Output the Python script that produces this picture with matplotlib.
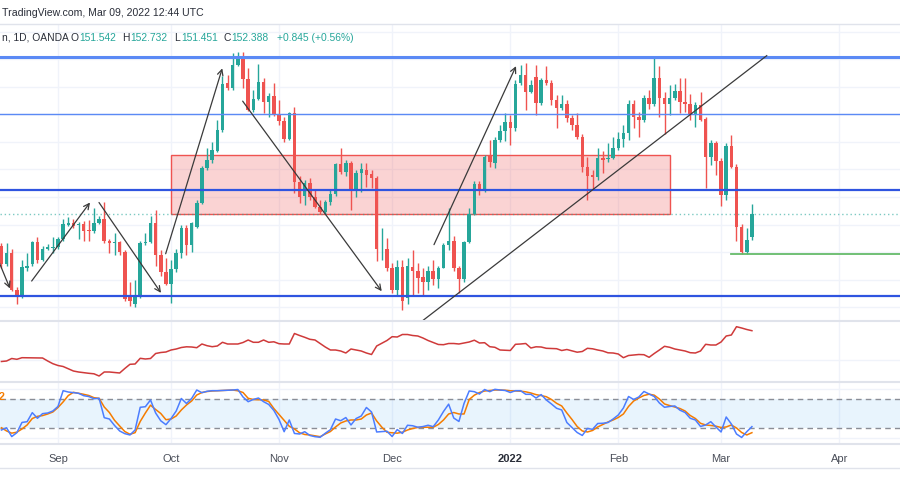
"""GBP/JPY daily chart snapshot with volatility line and stochastic pane."""

import matplotlib.pyplot as plt
import numpy as np
import pandas as pd
from matplotlib.lines import Line2D
from matplotlib.patches import Rectangle

plt.rcParams["font.family"] = ["Liberation Sans", "DejaVu Sans"]

TEAL = "#26a69a"
RED = "#ef5350"
GRID = "#f0f3fa"
SEP = "#e0e3eb"

dates = pd.bdate_range("2021-08-17", "2022-03-09")
calendar = pd.bdate_range("2021-08-17", "2022-04-29")

opens = [
    151.22, 150.55, 150.95, 149.64, 149.46, 150.44, 150.55, 151.35, 150.73, 151.13, 151.15,
    151.17, 151.46, 152.00, 152.05, 151.97, 152.01, 151.82, 151.76, 152.04, 152.19,
    151.39, 151.34, 151.35, 151.00, 149.39, 149.13, 149.42, 151.32, 151.36, 152.05,
    150.88, 150.27, 149.86, 150.37, 150.95, 151.86, 151.24, 151.90, 152.77, 154.04,
    154.33, 154.66, 155.42, 157.13, 156.95, 157.79, 158.09, 157.28, 156.15, 156.55,
    157.17, 156.44, 156.66, 156.00, 155.75, 155.10, 156.04, 153.53, 153.02, 153.50,
    152.99, 152.62, 152.44, 152.81, 153.10, 154.19, 153.90, 154.22, 153.24, 153.86,
    153.97, 153.82, 153.68, 151.10, 151.13, 150.41, 149.61, 150.45, 149.35, 150.45,
    150.33, 150.08, 149.93, 150.33, 150.01, 150.44, 151.24, 151.42, 150.44, 150.04,
    151.35, 152.37, 153.46, 153.21, 154.48, 154.22, 155.06, 155.39, 155.71, 155.50,
    157.13, 157.42, 156.81, 157.35, 156.40, 157.24, 157.13, 156.51, 156.22, 156.37,
    155.86, 155.60, 155.18, 154.09, 153.79, 153.71, 154.41, 154.37, 154.42, 154.77,
    155.10, 155.31, 156.37, 155.91, 155.79, 156.58, 156.36, 157.32, 156.60, 156.36,
    156.58, 156.84, 156.45, 156.37, 156.00, 156.33, 155.82, 154.45, 154.95, 154.30,
    153.06, 154.84, 154.09, 151.91, 151.00, 151.542,
]
highs = [
    151.32, 151.32, 151.13, 149.72, 150.70, 150.95, 151.42, 151.53, 151.21, 151.28, 151.53,
    151.53, 152.19, 152.27, 152.19, 152.09, 152.12, 152.15, 152.59, 152.30, 152.81,
    151.46, 151.68, 151.42, 151.06, 149.90, 149.97, 151.42, 151.71, 152.30, 152.52,
    151.06, 150.77, 150.70, 151.13, 151.97, 151.97, 152.08, 152.88, 154.11, 154.77,
    154.99, 155.79, 157.39, 157.42, 158.22, 158.27, 158.26, 157.68, 156.88, 157.82,
    157.31, 156.77, 157.13, 156.51, 155.90, 156.08, 156.27, 153.75, 153.61, 153.68,
    153.24, 152.88, 152.88, 153.28, 154.22, 154.77, 154.33, 154.30, 153.97, 154.22,
    154.22, 153.97, 153.75, 151.86, 151.50, 150.62, 150.73, 150.70, 150.77, 151.06,
    150.62, 150.41, 150.48, 150.70, 150.51, 151.32, 152.59, 151.57, 150.51, 151.42,
    152.59, 153.57, 153.57, 154.51, 155.06, 155.17, 155.60, 156.04, 155.97, 157.24,
    157.79, 157.86, 157.24, 157.79, 157.31, 157.75, 157.24, 156.70, 156.70, 156.51,
    155.97, 156.04, 155.28, 154.44, 153.97, 154.77, 154.66, 154.95, 155.17, 155.35,
    155.60, 156.51, 156.51, 156.08, 156.72, 156.88, 158.11, 157.76, 156.81, 157.06,
    157.12, 157.33, 157.31, 156.73, 156.44, 156.81, 155.90, 155.06, 155.02, 154.41,
    154.95, 155.24, 154.19, 152.01, 151.86, 152.732,
]
lows = [
    150.41, 150.48, 149.57, 149.13, 149.35, 150.33, 150.48, 150.62, 150.66, 151.06, 150.95,
    151.13, 151.42, 151.93, 151.86, 151.46, 151.42, 151.42, 151.71, 152.01, 151.32,
    150.95, 150.88, 150.88, 149.24, 149.03, 149.00, 149.32, 151.24, 151.32, 150.51,
    150.15, 149.79, 149.17, 150.26, 150.77, 150.88, 150.99, 151.86, 152.73, 153.97,
    154.22, 154.62, 155.35, 156.88, 156.88, 157.75, 156.95, 156.11, 156.08, 156.51,
    156.04, 155.90, 155.93, 155.60, 154.99, 155.06, 153.13, 152.77, 152.70, 152.88,
    152.59, 152.37, 152.37, 152.70, 153.02, 153.82, 153.75, 152.52, 152.99, 153.17,
    153.35, 153.32, 150.66, 150.70, 150.33, 149.50, 149.39, 148.91, 149.10, 149.46,
    149.53, 149.39, 149.61, 149.79, 149.68, 150.41, 151.06, 150.33, 149.50, 149.90,
    151.32, 152.33, 153.06, 153.17, 154.08, 154.04, 154.99, 155.02, 154.88, 155.39,
    157.06, 156.15, 156.77, 155.97, 156.33, 157.06, 156.33, 155.50, 156.15, 155.71,
    155.42, 155.10, 153.90, 152.88, 153.24, 153.61, 153.86, 154.26, 154.37, 154.70,
    154.82, 155.06, 155.50, 155.18, 155.71, 156.21, 156.30, 155.91, 155.30, 155.97,
    156.51, 156.05, 156.09, 155.79, 155.53, 155.75, 153.33, 154.15, 153.79, 152.66,
    152.88, 154.04, 151.39, 150.94, 150.94, 151.451,
]
closes = [
    150.55, 150.95, 149.64, 149.46, 150.45, 150.51, 151.35, 150.73, 151.13, 151.18, 151.18,
    151.46, 152.01, 152.05, 151.93, 152.01, 151.76, 151.77, 152.04, 152.19, 151.39,
    151.33, 151.36, 151.00, 149.30, 149.24, 149.46, 151.32, 151.36, 152.05, 150.88,
    150.27, 149.85, 150.37, 150.95, 151.86, 151.24, 152.04, 152.77, 154.04, 154.33,
    154.70, 155.42, 157.10, 156.95, 157.79, 158.08, 157.27, 156.15, 156.55, 157.17,
    156.44, 156.66, 156.00, 155.75, 155.10, 156.04, 153.53, 152.99, 153.50, 152.99,
    152.62, 152.44, 152.81, 153.10, 154.19, 153.90, 154.22, 153.24, 153.86, 154.00,
    153.79, 153.68, 151.10, 151.13, 150.41, 149.61, 150.45, 149.24, 150.48, 150.33,
    150.07, 149.93, 150.33, 150.01, 150.44, 151.24, 151.42, 150.41, 150.04, 151.35,
    152.37, 153.46, 153.21, 154.44, 154.26, 155.06, 155.39, 155.71, 155.50, 157.12,
    157.42, 156.81, 157.06, 156.40, 157.24, 157.13, 156.51, 156.22, 156.37, 155.86,
    155.60, 155.18, 154.09, 153.75, 153.71, 154.41, 154.33, 154.42, 154.77, 155.12,
    155.31, 156.37, 155.91, 155.79, 156.58, 156.36, 157.32, 156.60, 156.36, 156.58,
    156.84, 156.45, 156.37, 156.00, 156.33, 155.80, 154.45, 154.95, 154.29, 153.06,
    154.84, 154.09, 151.91, 151.00, 151.45, 152.388,
]

# lower pane line (red)
volatility = [
    38.5, 39, 41.5, 40.7, 42.3, 42.2, 42, 42, 42, 39, 36.3,
    34.5, 33.5, 31.3, 29, 28, 27.3, 26.7, 26.2, 24, 28,
    28, 27.5, 27, 31.5, 35.7, 36, 41.7, 41, 41.5, 46.5,
    47.5, 48, 50, 51, 52.5, 53.2, 53, 52.3, 56, 54.3,
    53.3, 54, 57.7, 56, 56, 56, 57.5, 60, 57.7, 57.7,
    60, 57.7, 58.2, 56.3, 56, 56, 66.5, 64.5, 62.7, 60.7,
    60, 56.5, 53, 50, 50, 49, 47, 51, 50, 49,
    47, 45.5, 54, 56.7, 59.5, 63.3, 63, 65.5, 65.5, 64.5,
    64, 62, 59.5, 57.5, 55.5, 55.3, 56.5, 56.5, 56, 57,
    58, 59.8, 57, 57.3, 53.3, 52.7, 50, 49.7, 49.5, 55.7,
    56, 56.5, 52, 53.2, 53, 51.7, 51.5, 51.3, 49.5, 50.5,
    49.2, 47.8, 48.5, 51.7, 51.2, 50, 49, 47.2, 47, 46,
    42.3, 44.5, 45, 45.5, 45.3, 42.7, 46.5, 50, 53.7, 52.7,
    51, 50, 49, 47.3, 47, 49, 55.7, 55, 55, 58,
    64, 65, 73.3, 72, 70.5, 69.3,
]
stoch_k = [
    16.5, 21, 3, 11, 32, 33.5, 52, 40.5, 50, 51.3, 55.4,
    64.7, 97, 94.3, 93, 91.7, 86.8, 85, 80.6, 81.4, 41.7,
    39, 25.8, 14.5, 9, 6.3, 16.5, 63, 64.2, 78, 51.3,
    35.3, 27.4, 40, 55.4, 81, 70.8, 81, 98.4, 92.9, 95.8,
    97, 97, 97.4, 98, 98.4, 99.4, 84.1, 74.5, 79, 82,
    74.5, 68.8, 56.5, 38, 13, 37, 9.4, 8.3, 13, 5.3,
    2.8, 1.6, 9.8, 17.1, 39, 35.5, 42, 26.8, 40, 45.2,
    62.6, 53.4, 12.4, 13.2, 14, 3.2, 17.4, 9.4, 26.2, 25.2,
    22.1, 23.5, 26.2, 23.3, 37, 54.4, 69.4, 41, 34, 71,
    96.4, 95, 90.2, 99.4, 95, 99.8, 98.4, 97.4, 93.3, 97,
    97, 89.6, 89.6, 82, 89, 78, 69.8, 61, 57.5, 31.8,
    21.6, 11.4, 5.3, 19.6, 17.9, 29.8, 30.3, 31.8, 39, 47.2,
    61.6, 85.1, 79, 84.1, 95.4, 90.2, 85.1, 71.8, 63, 64.7,
    65.7, 57.1, 52.3, 40.5, 37, 23.7, 26.8, 33.5, 22.7, 12.4,
    43.1, 28.8, 8.3, 1.2, 13, 23.3,
]
stoch_d = [
    21, 14.5, 10, 12, 18.6, 26.8, 40, 44.5, 46, 49.3, 53.4,
    62.6, 74, 87, 93.7, 91.7, 89.6, 87.2, 82.7, 81.4, 63.6,
    52.3, 36.4, 24.7, 13.4, 7.7, 11, 34, 51.3, 67.3, 58.5,
    50.3, 37.6, 39, 45.2, 57.5, 67.7, 75.9, 88.2, 93.3, 95.3,
    96.4, 97, 97.4, 97.8, 98.4, 96.8, 93.3, 81.4, 79, 78.4,
    78, 75, 60.5, 48.3, 36, 24.1, 18.6, 10.8, 7.3, 6.3,
    4.6, 2.8, 8.3, 13.4, 22.7, 30.8, 35, 37, 37, 39,
    47.2, 51.3, 35, 22.3, 11.9, 10.8, 10, 11.9, 16.5, 19.6,
    21.7, 22.1, 22.1, 22.1, 27.8, 37, 49.3, 52.3, 49.3, 49.3,
    79, 87.8, 93.3, 96.4, 97.4, 98.4, 98.4, 98, 96.9, 96.4,
    96, 94.7, 92.3, 89, 87, 84.7, 79, 71.2, 65.7, 51.3,
    38, 23.7, 14.5, 12.4, 15.5, 22.7, 27.8, 32.9, 37, 42.1,
    49.3, 64.7, 75.9, 82, 87.2, 89.8, 87.8, 80, 69.8, 66.5,
    63.6, 60.5, 55.4, 46.2, 40, 30.2, 26.8, 25.8, 24.3, 21.6,
    22.7, 26.8, 20.6, 11.4, 6.3, 11,
]

# drawings on the price pane (bar index, price)
levels = [158.09, 156.03, 153.27, 149.40]
level_colors = ["#5b8af5", "#5b8af5", "#2f54e0", "#2f54e0"]
level_widths = [2.2, 1.0, 1.6, 1.6]
support_start, support_price = 141.9, 150.94
zone_x = (32.98, 130.07)
zone_y = (152.37, 154.54)
arrow_starts = [(-0.67, 150.73), (5.88, 149.95), (18.98, 152.80), (31.95, 150.94), (46.93, 156.48), (84.15, 151.27)]
arrow_ends = [(1.66, 149.68), (17.23, 152.80), (31.04, 149.52), (42.96, 157.67), (73.98, 149.58), (100.11, 157.75)]
trend_start, trend_end = (82.01, 148.52), (148.88, 158.13)
last_price = 152.388

month_labels = ["Sep", "Oct", "Nov", "Dec", "2022", "Feb", "Mar", "Apr"]

XLIM = (-0.28, 174.81)

fig = plt.figure(figsize=(9, 5), dpi=100, facecolor="white")


def pane(top_px, bottom_px):
    ax = fig.add_axes([0, 1 - bottom_px / 500, 1, (bottom_px - top_px) / 500])
    ax.set_xlim(*XLIM)
    for s in ax.spines.values():
        s.set_visible(False)
    ax.set_xticks([])
    ax.set_yticks([])
    ax.set_facecolor("white")
    return ax


month_starts = [i for i in range(1, len(calendar)) if calendar[i].month != calendar[i - 1].month]

ax = pane(24, 320.5)
ax.set_ylim(148.517, 159.28)
ax2 = pane(320.5, 382.3)
ax2.set_ylim(17.7, 79.5)
ax3 = pane(382.3, 444)
ax3.set_ylim(-12.2, 114.2)

for a in (ax, ax2, ax3):
    for m in month_starts:
        a.axvline(m, color=GRID, lw=1, zorder=0)
for p in range(149, 160):
    ax.axhline(p, color=GRID, lw=1, zorder=0)
ax2.axhline(40, color=GRID, lw=1, zorder=0)
for v in (0, 100):
    ax3.axhline(v, color=GRID, lw=1, zorder=0)

# candles
x = np.arange(len(dates))
o, h, lo, c = (np.array(v) for v in (opens, highs, lows, closes))
colors = np.where(c >= o, TEAL, RED)
ax.vlines(x, lo, h, colors=colors, lw=1, zorder=3)
ax.bar(x, np.maximum(np.abs(c - o), 0.025), bottom=np.minimum(o, c), width=0.68, color=colors, lw=0, zorder=4)

# zone and levels
ax.add_patch(Rectangle((zone_x[0], zone_y[0]), zone_x[1] - zone_x[0], zone_y[1] - zone_y[0],
                       facecolor=(239 / 255, 83 / 255, 80 / 255, 0.25), edgecolor=RED, lw=1, zorder=2))
for lv, col, lw in zip(levels, level_colors, level_widths):
    ax.axhline(lv, color=col, lw=lw, zorder=5)
ax.axhline(last_price, color=TEAL, lw=1, ls=(0, (1, 2)), alpha=0.6, zorder=2)
ax.plot([support_start, XLIM[1]], [support_price, support_price], color="#66bb6a", lw=1.3, zorder=5)

for s, e in zip(arrow_starts, arrow_ends):
    ax.annotate("", xy=e, xytext=s,
                arrowprops=dict(arrowstyle="->", color="#3a3a3a", lw=0.9, mutation_scale=10, shrinkA=0, shrinkB=0),
                zorder=6)
ax.plot([trend_start[0], trend_end[0]], [trend_start[1], trend_end[1]], color="#3a3a3a", lw=0.9, zorder=6)

# indicator panes
ax2.plot(x, volatility, color="#cf3a3a", lw=1.1)
ax3.axhspan(20, 80, color="#2196f3", alpha=0.1, lw=0, zorder=1)
for v in (20, 80):
    ax3.axhline(v, color="#8a8d96", lw=1, ls=(0, (4, 3)), zorder=2)
ax3.plot(x, stoch_k, color="#4c7dff", lw=1.1, zorder=4)
ax3.plot(x, stoch_d, color="#f57c00", lw=1.1, zorder=3)

# time axis labels
ax3.set_xticks(month_starts)
ax3.set_xticklabels(month_labels, fontsize=8, color="#4a4e59")
ax3.tick_params(axis="x", length=0, pad=7)
for lbl in ax3.get_xticklabels():
    if lbl.get_text() == "2022":
        lbl.set_fontweight("bold")
        lbl.set_color("#2a2e39")

# separators
for ypx, col, lw in [(24, SEP, 1), (320.5, SEP, 1.5), (382.3, SEP, 1.5), (444, SEP, 1.5), (468, SEP, 1)]:
    fig.add_artist(Line2D([0, 1], [1 - ypx / 500] * 2, transform=fig.transFigure, color=col, lw=lw))

# header and legend
fig.text(2 / 900, 1 - 13 / 500, "TradingView.com, Mar 09, 2022 12:44 UTC", fontsize=7.6,
         color="#2a2e39", va="center", ha="left")
legend_items = [
    (1.5, "n, 1D, OANDA", "#2a2e39"),
    (70.5, "O", "#2a2e39"), (79, "151.542", TEAL),
    (122, "H", "#2a2e39"), (130, "152.732", TEAL),
    (174.5, "L", "#2a2e39"), (181, "151.451", TEAL),
    (223, "C", "#2a2e39"), (231.5, "152.388", TEAL),
    (277, "+0.845 (+0.56%)", TEAL),
]
for xp, txt, col in legend_items:
    fig.text(xp / 900, 1 - 38 / 500, txt, fontsize=7.4, color=col, va="center", ha="left")
fig.text(-1 / 900, 1 - 396.5 / 500, "2", fontsize=7.6, color="#f57c00", va="center", ha="left", fontweight="bold")

fig.savefig("out.png", dpi=100, facecolor="white")
